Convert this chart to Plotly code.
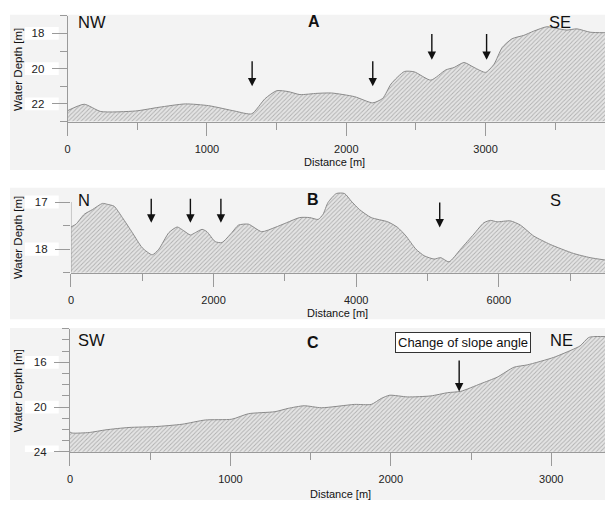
import plotly.graph_objects as go

W, H = 605, 506

# Profile A (NW -> SE)
dist_a = [0, 119, 238, 488, 655, 845, 1012, 1202, 1321, 1417, 1500, 1583, 1667, 1790,
          1893, 2060, 2190, 2262, 2321, 2417, 2488, 2607, 2714, 2774, 2845, 2917,
          3000, 3060, 3119, 3190, 3274, 3345, 3440, 3512, 3583, 3655, 3750, 3857]
depth_a = [22.38, 22.02, 22.43, 22.40, 22.19, 22.00, 22.10, 22.41, 22.56, 21.70, 21.25,
           21.30, 21.47, 21.40, 21.38, 21.59, 21.94, 21.68, 20.87, 20.16, 20.18, 20.65,
           20.07, 19.93, 19.65, 19.93, 20.21, 19.75, 18.80, 18.30, 18.11, 17.87, 17.62,
           17.72, 17.81, 17.74, 17.93, 17.96]
arrows_a_x = [1324, 2190, 2614, 3007]
arrows_a_tip = [21.0, 21.0, 19.5, 19.5]
arrows_a_tail = [19.5, 19.5, 17.95, 17.95]

# Profile B (N -> S)
dist_b = [0, 70, 187, 303, 442, 512, 605, 721, 861, 1000, 1140, 1233, 1373, 1489, 1582,
          1675, 1744, 1838, 1907, 2023, 2117, 2256, 2350, 2489, 2675, 2861, 3024, 3209,
          3349, 3466, 3536, 3605, 3722, 3837, 3930, 4047, 4210, 4443, 4582, 4698, 4838,
          4954, 5093, 5186, 5302, 5465, 5651, 5791, 5884, 5977, 6163, 6303, 6489, 6722,
          7047, 7280, 7490]
depth_b = [17.53, 17.47, 17.26, 17.16, 17.03, 17.05, 17.09, 17.33, 17.65, 17.97, 18.12,
           18.00, 17.65, 17.53, 17.61, 17.70, 17.65, 17.58, 17.63, 17.84, 17.86, 17.65,
           17.49, 17.47, 17.63, 17.54, 17.44, 17.33, 17.33, 17.37, 17.26, 17.01, 16.82,
           16.82, 16.98, 17.16, 17.33, 17.42, 17.54, 17.72, 18.00, 18.14, 18.21, 18.18,
           18.27, 18.00, 17.68, 17.44, 17.39, 17.42, 17.40, 17.49, 17.72, 17.90, 18.09,
           18.18, 18.23]
arrows_b_x = [1126, 1675, 2103, 5172]
arrows_b_tip = [17.44, 17.44, 17.44, 17.54]
arrows_b_tail = [16.9, 16.9, 16.9, 16.98]

# Profile C (SW -> NE)
dist_c = [0, 17, 120, 224, 368, 534, 699, 844, 1009, 1113, 1278, 1361, 1460, 1568, 1774,
          1878, 1940, 1992, 2105, 2250, 2354, 2436, 2560, 2664, 2767, 2850, 3015, 3139,
          3180, 3232, 3263, 3335]
depth_c = [22.23, 22.32, 22.27, 22.03, 21.82, 21.74, 21.53, 21.15, 21.08, 20.59, 20.41,
           20.11, 19.88, 20.06, 19.76, 19.76, 19.23, 18.94, 19.09, 19.00, 18.71, 18.59,
           17.91, 17.32, 16.44, 16.23, 15.56, 14.82, 14.53, 13.79, 13.70, 13.70]
arrows_c_x = [2426]
arrows_c_tip = [18.6]
arrows_c_tail = [15.7]

panels = [
    dict(x=dist_a, y=depth_a, xr=[0, 3857], yr=[23, 17], yticks=[18, 20, 22], yminor=1,
         xdt=1000, xminor=500, ax_x=arrows_a_x, ax_tip=arrows_a_tip, ax_tail=arrows_a_tail,
         left=65, top=16, bottom=123, boxh=0.36),
    dict(x=dist_b, y=depth_b, xr=[0, 7490], yr=[18.5, 16.75], yticks=[17, 18], yminor=0.5,
         xdt=2000, xminor=1000, ax_x=arrows_b_x, ax_tip=arrows_b_tip, ax_tail=arrows_b_tail,
         left=68.3, top=192.5, bottom=276, boxh=0.14),
    dict(x=dist_c, y=depth_c, xr=[0, 3335], yr=[24, 13], yticks=[16, 20, 24], yminor=1,
         xdt=1000, xminor=500, ax_x=arrows_c_x, ax_tip=arrows_c_tip, ax_tail=arrows_c_tail,
         left=67.3, top=332.7, bottom=457.3, boxh=0.57),
]

AXIS = "#9a9a9a"
TXT = "#222222"
FONT = "Liberation Sans, Arial, sans-serif"

fig = go.Figure()
layout = {}
annotations = []
shapes = []

# light panel backgrounds
for y0, y1 in [(15, 172), (190, 323), (332, 506)]:
    shapes.append(dict(type="rect", xref="paper", yref="paper", x0=7 / W, x1=1,
                       y0=1 - y1 / H, y1=1 - y0 / H, fillcolor="#f3f3f3",
                       line=dict(width=0), layer="below"))

for i, p in enumerate(panels, start=1):
    sx = "" if i == 1 else str(i)
    xa, ya = "x" + sx, "y" + sx
    base = p["yr"][0]
    fig.add_trace(go.Scatter(x=[p["x"][0], p["x"][-1]], y=[base, base], mode="lines",
                             line=dict(width=0), xaxis=xa, yaxis=ya, hoverinfo="skip",
                             showlegend=False))
    fig.add_trace(go.Scatter(x=p["x"], y=p["y"], mode="lines", fill="tonexty",
                             line=dict(color="#8a8a8a", width=1, shape="spline", smoothing=0.6),
                             fillpattern=dict(shape="/", fgcolor="#7a7a7a", bgcolor="#e4e4e4",
                                              size=3, solidity=0.3),
                             xaxis=xa, yaxis=ya, showlegend=False))
    layout["xaxis" + sx] = dict(
        domain=[p["left"] / W, 1], anchor=ya, range=p["xr"], showgrid=False, zeroline=False,
        showline=True, linecolor=AXIS, linewidth=1, ticks="outside", ticklen=13,
        tickcolor=AXIS, dtick=p["xdt"], tick0=0, ticklabelstandoff=4,
        tickfont=dict(size=11, color=TXT, family=FONT),
        minor=dict(dtick=p["xminor"], ticks="outside", ticklen=7, tickcolor=AXIS))
    layout["yaxis" + sx] = dict(
        domain=[1 - p["bottom"] / H, 1 - p["top"] / H], anchor=xa, range=p["yr"],
        showgrid=False, zeroline=False, showline=(i != 2), linecolor=AXIS, linewidth=1,
        ticks="outside", ticklen=15, tickcolor=AXIS, tickvals=p["yticks"],
        ticklabelstandoff=5, tickfont=dict(size=11.5, color=TXT, family=FONT),
        minor=dict(dtick=p["yminor"], tick0=p["yticks"][0], ticks="outside", ticklen=7,
                   tickcolor=AXIS))
    # white boxes behind the depth tick labels
    for t in p["yticks"]:
        shapes.append(dict(type="rect", xref="paper", yref=ya, x0=22 / W, x1=56 / W,
                           y0=t - p["boxh"], y1=t + p["boxh"], fillcolor="white",
                           line=dict(width=0), layer="below"))
    for xv, tip, tail in zip(p["ax_x"], p["ax_tip"], p["ax_tail"]):
        annotations.append(dict(x=xv, y=tip, ax=xv, ay=tail, xref=xa, yref=ya,
                                axref=xa, ayref=ya, text="", showarrow=True, arrowhead=2,
                                arrowsize=1.2, arrowwidth=1.4, arrowcolor="#111111"))

# y axis line of profile B spans only the labelled depths
shapes.append(dict(type="line", xref="x2", yref="y2", x0=0, x1=0, y0=17, y1=18.5,
                   line=dict(color=AXIS, width=1)))

def txt(text, px, py, size, bold=False, angle=0, **kw):
    annotations.append(dict(text=f"<b>{text}</b>" if bold else text, x=px / W, y=1 - py / H,
                            xref="paper", yref="paper", xanchor="center", yanchor="middle",
                            showarrow=False, textangle=angle,
                            font=dict(size=size, color="#111111", family=FONT), **kw))

for name, px, py in [("NW", 89.5, 22), ("SE", 560, 22), ("N", 81, 202), ("S", 555, 202),
                     ("SW", 88.5, 344), ("NE", 561, 344)]:
    txt(name, px, py, 16.5)
for name, px, py in [("A", 312.5, 22), ("B", 312, 202), ("C", 312, 347)]:
    txt(name, px, py, 16, bold=True)
for py in [70, 240, 395]:
    txt("Water Depth [m]", 15, py, 11.5, angle=-90)
for px, py in [(333, 164), (336, 317), (339, 500)]:
    txt("Distance [m]", px, py, 11)
txt("Change of slope angle", 462, 347, 13, bordercolor="#333333", borderwidth=1,
    borderpad=2, bgcolor="#ffffff")

fig.update_layout(width=W, height=H, margin=dict(l=0, r=0, t=0, b=0),
                  paper_bgcolor="white", plot_bgcolor="rgba(0,0,0,0)",
                  annotations=annotations, shapes=shapes, **layout)

fig.write_html("out.html")
